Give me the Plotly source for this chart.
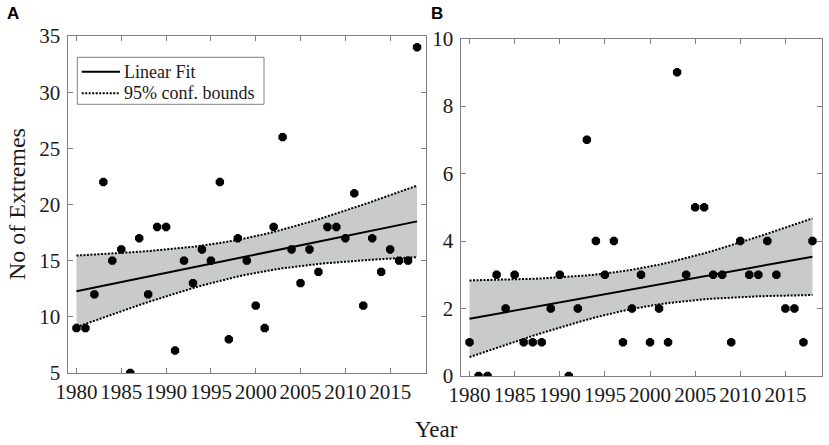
import numpy as np
import plotly.graph_objects as go

# ── data ──────────────────────────────────────────────────────────
years = list(range(1980, 2019))
extremes_a = [9, 9, 12, 22, 15, 16, 5, 17, 12, 18,
              18, 7, 15, 13, 16, 15, 22, 8, 17, 15,
              11, 9, 18, 26, 16, 13, 16, 14, 18, 18,
              17, 21, 11, 17, 14, 16, 15, 15, 34]
extremes_b = [1, 0, 0, 3, 2, 3, 1, 1, 1, 2,
              3, 0, 2, 7, 4, 3, 4, 1, 2, 3,
              1, 2, 1, 9, 3, 5, 5, 3, 3, 1,
              4, 3, 3, 4, 3, 2, 2, 1, 4]
x_ticks = [1980, 1985, 1990, 1995, 2000, 2005, 2010, 2015]
y_ticks_a = [5, 10, 15, 20, 25, 30, 35]
y_ticks_b = [0, 2, 4, 6, 8, 10]

T975 = 2.026  # t(0.975, df=37)


def linfit(x, y):
    x = np.asarray(x, float)
    y = np.asarray(y, float)
    n = len(x)
    b, a = np.polyfit(x, y, 1)
    yhat = a + b * x
    s = np.sqrt(np.sum((y - yhat) ** 2) / (n - 2))
    sxx = np.sum((x - x.mean()) ** 2)
    half = T975 * s * np.sqrt(1 / n + (x - x.mean()) ** 2 / sxx)
    return yhat, yhat - half, yhat + half


W, H = 829, 445
SERIF = 'Liberation Serif, Times New Roman, serif'
FRAME = '#808080'
FILL = '#c9cbcb'
DOT = '2px,1.5px'


def px(v):   # window pixel -> paper x
    return v / W


def py(v):   # window pixel -> paper y
    return 1 - v / H


fig = go.Figure()

panels = [
    ('x', 'y', extremes_a),
    ('x2', 'y2', extremes_b),
]
for xa, ya, vals in panels:
    fit, lo, hi = linfit(years, vals)
    fig.add_trace(go.Scatter(
        x=years + years[::-1], y=list(hi) + list(lo[::-1]),
        fill='toself', fillcolor=FILL, line=dict(width=0),
        mode='lines', hoverinfo='skip', xaxis=xa, yaxis=ya))
    fig.add_trace(go.Scatter(
        x=years, y=fit, mode='lines', name='Linear Fit',
        line=dict(color='black', width=2), xaxis=xa, yaxis=ya))
    for bound in (hi, lo):
        fig.add_trace(go.Scatter(
            x=years, y=bound, mode='lines', name='95% conf. bounds',
            line=dict(color='black', width=2, dash=DOT), xaxis=xa, yaxis=ya))
    fig.add_trace(go.Scatter(
        x=years, y=vals, mode='markers',
        marker=dict(symbol='asterisk', size=7, color='black',
                    line=dict(color='black', width=3.8)),
        xaxis=xa, yaxis=ya))

axis_common = dict(
    showline=True, linecolor=FRAME, linewidth=1, mirror='ticks',
    ticks='inside', ticklen=5, tickcolor=FRAME, tickwidth=1,
    showgrid=False, zeroline=False, automargin=False,
    tickfont=dict(family=SERIF, size=21, color='#1a1a1a'),
)

# legend drawn by hand (MATLAB-style compact box)
shapes = [
    dict(type='rect', xref='paper', yref='paper',
         x0=px(77.3), x1=px(264), y0=py(104.3), y1=py(57.3),
         line=dict(color=FRAME, width=1), fillcolor='white', layer='above'),
    dict(type='line', xref='paper', yref='paper',
         x0=px(81.7), x1=px(120), y0=py(71.7), y1=py(71.7),
         line=dict(color='black', width=2), layer='above'),
    dict(type='line', xref='paper', yref='paper',
         x0=px(81.7), x1=px(120), y0=py(93.3), y1=py(93.3),
         line=dict(color='black', width=2, dash=DOT), layer='above'),
]


def label(text, x, y, size, family=SERIF, angle=0, xanchor='center', bold=False):
    return dict(text=f'<b>{text}</b>' if bold else text, x=px(x), y=py(y),
                xref='paper', yref='paper', showarrow=False, textangle=angle,
                xanchor=xanchor, yanchor='middle',
                font=dict(family=family, size=size, color='black' if bold else '#1a1a1a'))


annotations = [
    label('A', 13, 14, 17, family='Liberation Sans, Arial', bold=True),
    label('B', 437, 14, 17, family='Liberation Sans, Arial', bold=True),
    label('No of Extremes', 17, 204, 24, angle=-90),
    label('Year', 436, 429, 23),
    label('Linear Fit', 122, 71.7, 18, xanchor='left'),
    label('95% conf. bounds', 122, 93.3, 18, xanchor='left'),
]

fig.update_layout(
    width=W, height=H,
    margin=dict(l=0, r=0, t=0, b=0, autoexpand=False),
    paper_bgcolor='white', plot_bgcolor='white',
    font=dict(family=SERIF, color='#1a1a1a'),
    showlegend=False,
    xaxis=dict(domain=[px(67.5), px(426)], range=[1979, 2019],
               tickvals=x_ticks, anchor='y', **axis_common),
    yaxis=dict(domain=[py(373), py(36)], range=[5, 35],
               tickvals=y_ticks_a, anchor='x', ticklabelstandoff=2, **axis_common),
    xaxis2=dict(domain=[px(460.5), px(821.5)], range=[1979, 2019],
                tickvals=x_ticks, anchor='y2', **axis_common),
    yaxis2=dict(domain=[py(376), py(38.5)], range=[0, 10],
                tickvals=y_ticks_b, anchor='x2', ticklabelstandoff=2, **axis_common),
    shapes=shapes,
    annotations=annotations,
)

# drop the browser's default 8px body margin so the figure fills the window
fig.write_html('out.html',
               config={'displayModeBar': False},
               post_script="document.body.style.margin='0';document.body.style.overflow='hidden';")
